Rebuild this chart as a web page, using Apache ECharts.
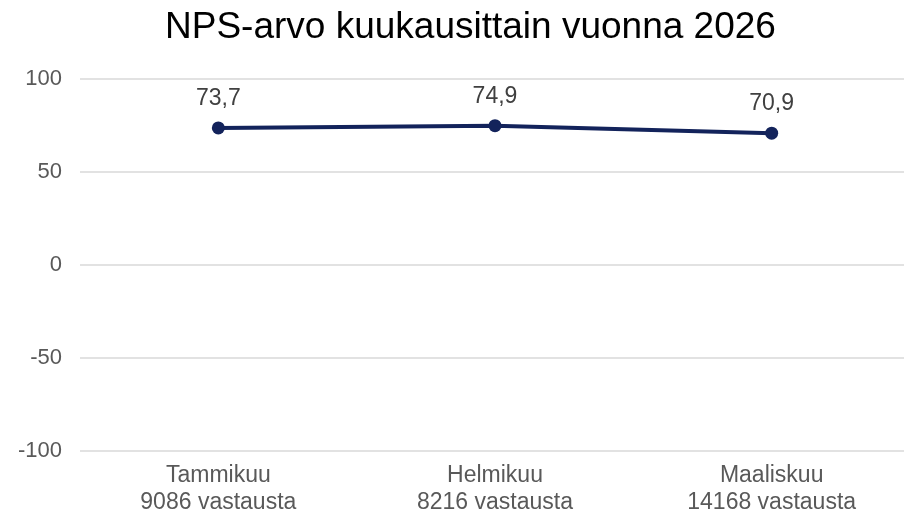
<!DOCTYPE html>
<html>
<head>
<meta charset="UTF-8">
<title>NPS</title>
<script src="https://cdn.jsdelivr.net/npm/echarts@6/dist/echarts.min.js"></script>
<style>
  html, body { margin: 0; padding: 0; background: #fff; }
  #chart { width: 904px; height: 517px; }
</style>
</head>
<body>
<div id="chart"></div>
<script>
var months = ['Tammikuu', 'Helmikuu', 'Maaliskuu'];
var responses = [9086, 8216, 14168];
var npsValues = [73.7, 74.9, 70.9];

var categories = months.map(function (m, i) {
  return m + '\n' + responses[i] + ' vastausta';
});

var chart = echarts.init(document.getElementById('chart'));
chart.setOption({
  animation: false,
  textStyle: { fontFamily: 'Liberation Sans, Arial, sans-serif' },
  title: {
    text: 'NPS-arvo kuukausittain vuonna 2026',
    left: 160,
    top: 4,
    textStyle: { fontSize: 37, fontWeight: 'normal', color: '#000' }
  },
  // plot runs slightly past the right edge, like the original
  grid: { left: 80, width: 830, top: 79, bottom: 66, outerBoundsMode: 'none' },
  xAxis: {
    type: 'category',
    data: categories,
    boundaryGap: true,
    axisLine: { show: false },
    axisTick: { show: false },
    axisLabel: { fontSize: 23, color: '#595959', lineHeight: 27, margin: 11 }
  },
  yAxis: {
    type: 'value',
    min: -100,
    max: 100,
    interval: 50,
    axisLine: { show: false },
    axisTick: { show: false },
    axisLabel: { fontSize: 22, color: '#595959', margin: 18 },
    splitLine: { lineStyle: { color: '#d9d9d9', width: 1.5 } }
  },
  series: [{
    type: 'line',
    data: npsValues,
    symbol: 'circle',
    symbolSize: 13,
    itemStyle: { color: '#13235b' },
    lineStyle: { color: '#13235b', width: 4 },
    label: {
      show: true,
      position: 'top',
      distance: 11,
      fontSize: 23,
      color: '#404040',
      formatter: function (p) { return String(p.value).replace('.', ','); }
    }
  }]
});
</script>
</body>
</html>
